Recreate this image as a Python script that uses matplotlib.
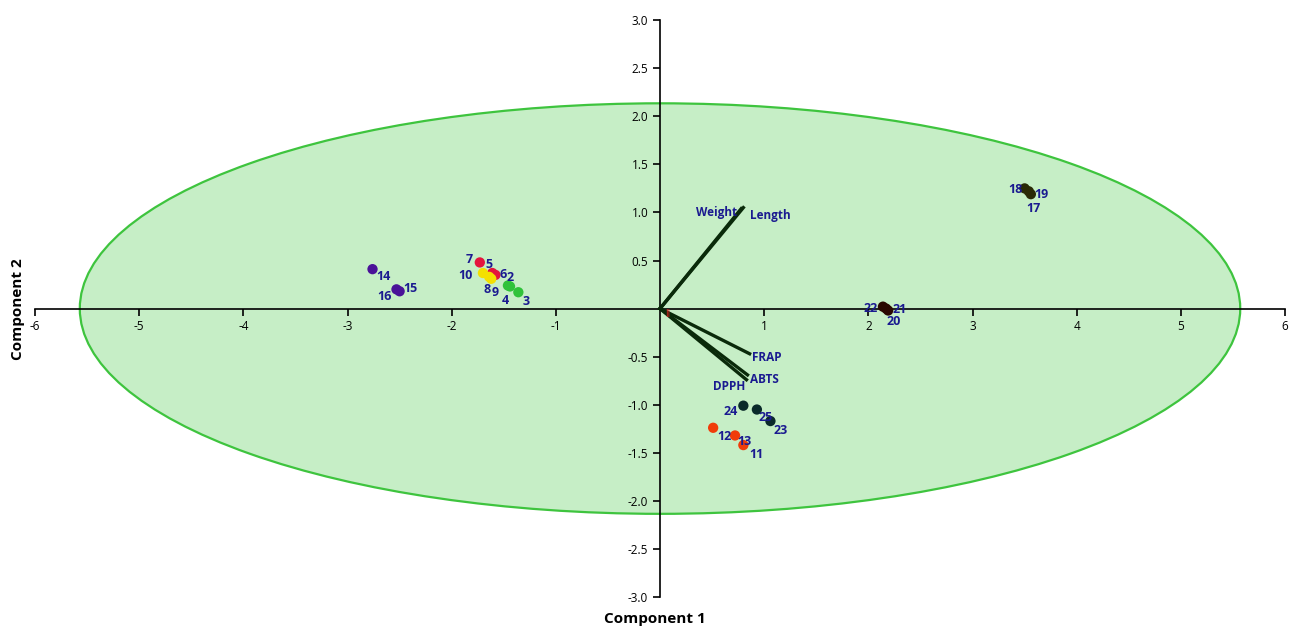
import matplotlib
matplotlib.use("Agg")
import matplotlib.pyplot as plt
from matplotlib.patches import Ellipse

plt.rcParams['font.family'] = ['Open Sans', 'DejaVu Sans']

# Sample scores (Component 1, Component 2)
labels = ['2', '3', '4', '5', '6', '7', '8', '9', '10',
          '11', '12', '13', '14', '15', '16',
          '17', '18', '19', '20', '21', '22', '23', '24', '25']
comp1 = [-1.46, -1.36, -1.44, -1.61, -1.58, -1.73, -1.64, -1.62, -1.70,
         0.80, 0.51, 0.72, -2.76, -2.50, -2.53,
         3.56, 3.50, 3.54, 2.19, 2.17, 2.14, 1.06, 0.80, 0.93]
comp2 = [0.24, 0.17, 0.23, 0.37, 0.35, 0.48, 0.33, 0.31, 0.37,
         -1.42, -1.24, -1.32, 0.41, 0.18, 0.20,
         1.19, 1.25, 1.22, -0.02, 0.00, 0.02, -1.17, -1.01, -1.05]
colors = ['#2fc23a', '#2fc23a', '#2fc23a', '#e4143c', '#e4143c', '#e4143c',
          '#f4e000', '#f4e000', '#f4e000',
          '#f03c0a', '#f03c0a', '#f03c0a', '#4a1298', '#4a1298', '#4a1298',
          '#2a2a06', '#2a2a06', '#2a2a06', '#2a0800', '#2a0800', '#2a0800',
          '#0a2a2a', '#0a2a2a', '#0a2a2a']
# label offsets in points (dx, dy)
label_offsets = [(-1, 6), (3, -7), (-6, -10), (-5, 6), (3, 0), (-10, 2), (-4, -9), (0, -10), (-18, -2),
                 (4, -7), (3, -6), (2, -4), (3, -5), (3, 2), (-14, -5),
                 (-3, -10), (-12, -1), (4, -2), (-1, -8), (5, -1), (-14, -1), (2, -7), (-14, -4), (1, -6)]

# Loadings
var_names = ['Weight', 'Length', 'FRAP', 'ABTS', 'DPPH']
load1 = [0.78, 0.80, 0.86, 0.84, 0.83]
load2 = [1.04, 1.05, -0.47, -0.69, -0.74]

# Ellipse (95% confidence)
ell_width = 11.14
ell_height = 4.27

xticks = [-6, -5, -4, -3, -2, -1, 1, 2, 3, 4, 5, 6]
yticks = [3.0, 2.5, 2.0, 1.5, 1.0, 0.5, -0.5, -1.0, -1.5, -2.0, -2.5, -3.0]

fig = plt.figure(figsize=(12.92, 6.30), dpi=100)
ax = fig.add_axes([0.0271, 0.0524, 0.9675, 0.9156])
ax.set_xlim(-6, 6)
ax.set_ylim(-3, 3)

ax.add_patch(Ellipse((0, 0), ell_width, ell_height, facecolor='#c6eec6',
                     edgecolor='#3ec43e', linewidth=1.6, zorder=1))

for s in ['top', 'right']:
    ax.spines[s].set_visible(False)
ax.spines['left'].set_position(('data', 0))
ax.spines['bottom'].set_position(('data', 0))
for s in ['left', 'bottom']:
    ax.spines[s].set_zorder(2)
    ax.spines[s].set_linewidth(1.2)
ax.set_xticks(xticks)
ax.set_xticklabels([str(t) for t in xticks])
ax.set_yticks(yticks)
ax.set_yticklabels(['%.1f' % t for t in yticks])
ax.tick_params(axis='both', direction='out', length=5, width=1.2, labelsize=8.5, colors='black')

# Loading vectors
for name, lx, ly in zip(var_names, load1, load2):
    ax.plot([0, lx], [0, ly], color='#0a2a0a', linewidth=2.4, zorder=3)
text_kw = dict(color='#1a1a90', fontsize=8.5, fontweight='bold', zorder=6)
ax.annotate('Weight', (load1[0], load2[0]), xytext=(-3, -3), textcoords='offset points', ha='right', va='center', **text_kw)
ax.annotate('Length', (load1[1], load2[1]), xytext=(5, -6), textcoords='offset points', ha='left', va='center', **text_kw)
ax.annotate('FRAP', (load1[2], load2[2]), xytext=(2, -3), textcoords='offset points', ha='left', va='center', **text_kw)
ax.annotate('ABTS', (load1[3], load2[3]), xytext=(2, -3), textcoords='offset points', ha='left', va='center', **text_kw)
ax.annotate('DPPH', (load1[4], load2[4]), xytext=(-1, -5), textcoords='offset points', ha='right', va='center', **text_kw)

# small red marks near origin
ax.annotate('lI', (0.02, 0), xytext=(2, -4), textcoords='offset points', color='#e02020',
            fontsize=7, ha='left', va='center', zorder=6)

# Scores
ax.scatter(comp1, comp2, c=colors, s=55, zorder=4, edgecolors='none')
for lab, x, y, (dx, dy) in zip(labels, comp1, comp2, label_offsets):
    ax.annotate(lab, (x, y), xytext=(dx, dy), textcoords='offset points',
                color='#1a1a90', fontsize=9, fontweight='bold', ha='left', va='center', zorder=6)

fig.text(0.507, 0.018, 'Component 1', ha='center', va='center', fontsize=11, fontweight='bold')
fig.text(0.014, 0.51, 'Component 2', ha='center', va='center', rotation=90, fontsize=11, fontweight='bold')

fig.savefig('out.png', dpi=100)
